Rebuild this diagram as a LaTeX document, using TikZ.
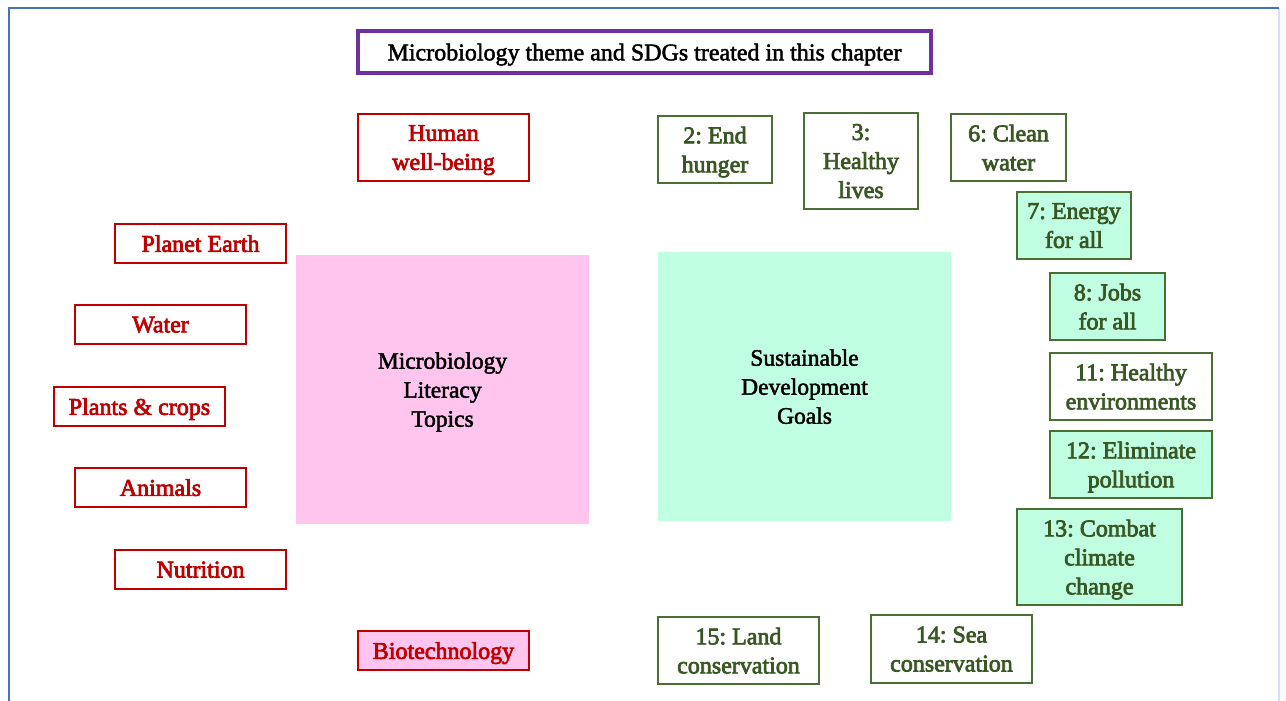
\documentclass[tikz,border=0pt]{standalone}
\usepackage{fontspec}
\setmainfont{Liberation Serif}
\newfontfamily\medfont{Liberation Serif}[FakeBold=3]
\newfontfamily\lightmed{Liberation Serif}[FakeBold=2]
\frenchspacing
\definecolor{redtxt}{HTML}{C00000}
\definecolor{grntxt}{HTML}{385723}
\definecolor{grnline}{HTML}{4A6E34}
\definecolor{pinkfill}{HTML}{FFC5EE}
\definecolor{mintfill}{HTML}{C1FFE3}
\definecolor{purp}{HTML}{7030A0}
\definecolor{frameblue}{HTML}{4472C4}
\definecolor{faintblue}{HTML}{D6E0F2}
\tikzset{
  box/.style={inner sep=0pt, align=center, text depth=0pt, font=\medfont\fontsize{24}{29}\selectfont\frenchspacing},
  topic/.style={box, draw=redtxt, line width=1.3pt, text=redtxt},
  sdg/.style={box, draw=grnline, line width=1.3pt, text=grntxt},
  mint/.style={fill=mintfill},
  big/.style={inner sep=0pt, align=center, text depth=0pt, font=\lightmed\fontsize{23.5}{29}\selectfont, text=black},
}
\begin{document}
\begin{tikzpicture}[x=1pt,y=-1pt]
\useasboundingbox (0,0) rectangle (1286,701);
\fill[white] (0,0) rectangle (1286,701);
\fill[black!2] (1279,8) rectangle (1286,701);
\draw[faintblue, line width=1.2pt] (1279,8) -- (1279,701);
\draw[frameblue, line width=2.5pt] (9,701) -- (9,8) -- (1279,8);

% title
\node[box, draw=purp, line width=3.2pt, minimum width=573, minimum height=42, font=\lightmed\fontsize{24}{26}\selectfont] (title) at (644.5,52) {Microbiology theme and SDGs treated in this chapter};

% big boxes
\node[big, fill=pinkfill, minimum width=293, minimum height=269] (mlt) at (442.5,389.5) {Microbiology\\Literacy\\Topics};
\node[big, fill=mintfill, minimum width=293, minimum height=269] (sdgs) at (804.5,386.5) {Sustainable\\Development\\Goals};

% topics
\node[topic, minimum width=171, minimum height=67] (human) at (443.5,147.5) {Human\\well-being};
\node[topic, minimum width=171, minimum height=39] (earth) at (200.5,243.5) {Planet Earth};
\node[topic, minimum width=171, minimum height=39] (water) at (160.5,324.5) {Water};
\node[topic, minimum width=171, minimum height=39] (plants) at (139.5,406.5) {Plants \& crops};
\node[topic, minimum width=171, minimum height=39] (animals) at (160.5,487.5) {Animals};
\node[topic, minimum width=171, minimum height=39] (nutrition) at (200.5,569.5) {Nutrition};
\node[topic, fill=pinkfill, minimum width=171, minimum height=39] (biotech) at (443.5,650.5) {Biotechnology};

% SDGs
\node[sdg, minimum width=114, minimum height=67] (g2) at (715,149.5) {2: End\\hunger};
\node[sdg, minimum width=114, minimum height=96] (g3) at (861,161) {3:\\Healthy\\lives};
\node[sdg, minimum width=115, minimum height=67] (g6) at (1008.5,147.5) {6: Clean\\water};
\node[sdg, mint, minimum width=114, minimum height=67] (g7) at (1074,225.5) {7: Energy\\for all};
\node[sdg, mint, minimum width=115, minimum height=67] (g8) at (1107.5,306.5) {8: Jobs\\for all};
\node[sdg, minimum width=162, minimum height=67] (g11) at (1131,386.5) {11: Healthy\\environments};
\node[sdg, mint, minimum width=162, minimum height=67] (g12) at (1131,464.5) {12: Eliminate\\pollution};
\node[sdg, mint, minimum width=165, minimum height=96] (g13) at (1099.5,557) {13: Combat\\climate\\change};
\node[sdg, minimum width=161, minimum height=67] (g15) at (738.5,650.5) {15: Land\\conservation};
\node[sdg, minimum width=161, minimum height=68] (g14) at (951.5,649) {14: Sea\\conservation};
\end{tikzpicture}
\end{document}
